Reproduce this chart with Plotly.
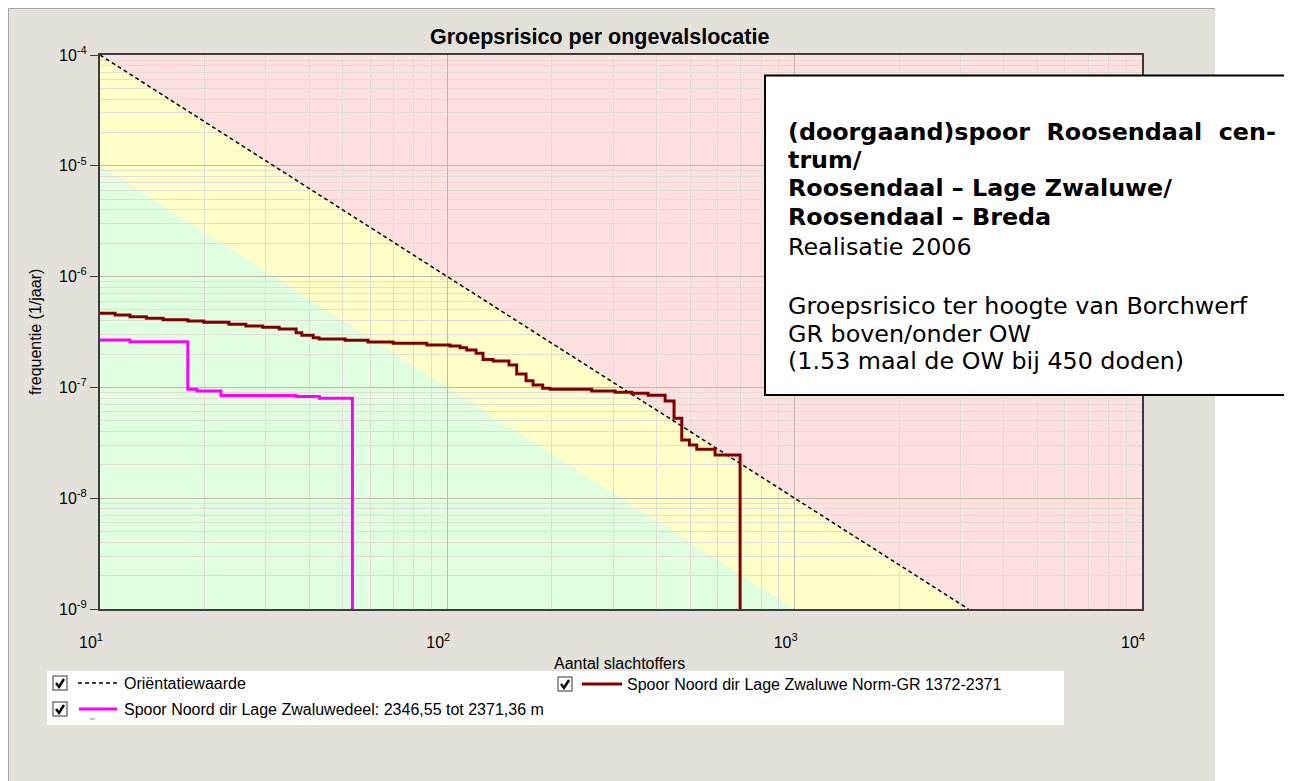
import plotly.graph_objects as go

# ---------------- data ----------------
# Orientatiewaarde (OW) line endpoints
ow_n = [10, 3162.28]
ow_f = [1e-4, 1e-9]

# Norm-GR step curve (brown)
norm_n = [10, 11.05, 12.2, 13.6, 15.2, 17.9, 19.9, 23.5, 26.3, 29.4, 32.8, 36.7, 38.1, 41.1, 42.7,
          50.8, 59.1, 69.8, 87.3, 101.8, 108.8, 113.7, 121, 126.7, 135.4, 150.5, 158.4, 168.5,
          176.5, 188.2, 197.6, 260.5, 304, 339.6, 378.5, 423.6, 449.5, 473.1, 497.6, 522.6,
          589.9, 696.4]
norm_f = [4.66e-7, 4.50e-7, 4.34e-7, 4.20e-7, 4.08e-7, 3.97e-7, 3.87e-7, 3.71e-7, 3.58e-7,
          3.49e-7, 3.37e-7, 3.12e-7, 2.95e-7, 2.81e-7, 2.73e-7, 2.66e-7, 2.57e-7, 2.50e-7,
          2.41e-7, 2.36e-7, 2.28e-7, 2.18e-7, 2.03e-7, 1.79e-7, 1.73e-7, 1.59e-7, 1.32e-7,
          1.15e-7, 1.05e-7, 9.8e-8, 9.6e-8, 9.28e-8, 9.03e-8, 8.85e-8, 8.49e-8, 7.54e-8,
          5.26e-8, 3.35e-8, 3.02e-8, 2.76e-8, 2.45e-8, 1e-12]

# deel 2346,55 - 2371,36 m step curve (magenta)
deel_n = [10, 12.2, 17.9, 19.0, 22.3, 36.7, 42.8, 53.3]
deel_f = [2.68e-7, 2.58e-7, 9.6e-8, 9.28e-8, 8.43e-8, 8.26e-8, 7.99e-8, 1e-12]

# background zones (polygon corners, data units)
yellow_n = [10, 3162.28, 1000, 10]
yellow_f = [1e-4, 1e-9, 1e-9, 1e-5]
green_n = [10, 1000, 10]
green_f = [1e-5, 1e-9, 1e-9]

x_tickvals = [10, 100, 1000, 10000]
x_ticktext = ["10<sup>1</sup>", "10<sup>2</sup>", "10<sup>3</sup>", "10<sup>4</sup>"]
y_tickvals = [1e-9, 1e-8, 1e-7, 1e-6, 1e-5, 1e-4]
y_ticktext = ["10<sup>-9</sup>", "10<sup>-8</sup>", "10<sup>-7</sup>", "10<sup>-6</sup>",
              "10<sup>-5</sup>", "10<sup>-4</sup>"]

title_text = "Groepsrisico per ongevalslocatie"
x_title = "Aantal slachtoffers"
y_title = "frequentie (1/jaar)"
legend_names = ["Oriëntatiewaarde",
                "Spoor Noord dir Lage Zwaluwe Norm-GR 1372-2371",
                "Spoor Noord dir Lage Zwaluwedeel: 2346,55 tot 2371,36 m"]
box_lines = [
    ("(doorgaand)spoor\u00a0 Roosendaal\u00a0 cen-", True),
    ("trum/", True),
    ("Roosendaal – Lage Zwaluwe/", True),
    ("Roosendaal – Breda", True),
    ("Realisatie 2006", False),
    ("", False),
    ("Groepsrisico ter hoogte van Borchwerf", False),
    ("GR boven/onder OW", False),
    ("(1.53 maal de OW bij 450 doden)", False),
]

# ---------------- layout helpers (page pixel coordinates) ----------------
OFF = 8                      # page body margin
W, H = 1292 - OFF, 781 - OFF
PL, PR, PT, PB = 100, 1142, 55, 609   # plot area in page pixels
PW, PH = PR - PL, PB - PT


def px(x):
    return (x - PL) / PW


def py(y):
    return (PB - y) / PH


def fmt(v):
    return f"{v:.12f}"


def poly_path(ns, fs):
    pts = [f"{fmt(n)},{fmt(f)}" for n, f in zip(ns, fs)]
    return "M" + " L".join(pts) + " Z"


BROWN = "#800000"
MAGENTA = "#FF00FF"
PANEL = "#E4E1DA"
OWDASH = "4px,3px"
TICKFONT = dict(family="Liberation Sans, Arial, sans-serif", size=16, color="#000000")
LBLFONT = dict(family="Liberation Sans, Arial, sans-serif", size=16, color="#000000")

fig = go.Figure()

fig.add_trace(go.Scatter(x=ow_n, y=ow_f, mode="lines", name=legend_names[0],
                         line=dict(color="#000000", width=1.5, dash=OWDASH),
                         showlegend=False, hoverinfo="skip"))
fig.add_trace(go.Scatter(x=norm_n, y=norm_f, mode="lines", name=legend_names[1],
                         line=dict(color=BROWN, width=3, shape="hv"),
                         showlegend=False))
fig.add_trace(go.Scatter(x=deel_n, y=deel_f, mode="lines", name=legend_names[2],
                         line=dict(color=MAGENTA, width=3, shape="hv"),
                         showlegend=False))

shapes = []
# grey panel
shapes.append(dict(type="rect", xref="paper", yref="paper", x0=px(7), x1=px(1215),
                   y0=py(800), y1=py(8), fillcolor=PANEL, line=dict(width=0), layer="below"))
shapes.append(dict(type="line", xref="paper", yref="paper", x0=px(8), x1=px(1215),
                   y0=py(8.5), y1=py(8.5), line=dict(color="#A8A8A8", width=1), layer="below"))
shapes.append(dict(type="line", xref="paper", yref="paper", x0=px(8.5), x1=px(8.5),
                   y0=py(8), y1=py(800), line=dict(color="#A8A8A8", width=1), layer="below"))
# red zone = whole plot area
shapes.append(dict(type="rect", xref="paper", yref="paper", x0=0, x1=1, y0=0, y1=1,
                   fillcolor="#FFE0E1", line=dict(width=0), layer="below"))
# yellow and green zones
shapes.append(dict(type="path", xref="x", yref="y", path=poly_path(yellow_n, yellow_f),
                   fillcolor="#FFFFC8", line=dict(width=0), layer="below"))
shapes.append(dict(type="path", xref="x", yref="y", path=poly_path(green_n, green_f),
                   fillcolor="#E0FFE0", line=dict(width=0), layer="below"))

# annotation box
shapes.append(dict(type="rect", xref="paper", yref="paper", x0=px(765), x1=px(1320),
                   y0=py(395), y1=py(75.5), fillcolor="#FFFFFF",
                   line=dict(color="#000000", width=2), layer="above"))

# legend box
shapes.append(dict(type="rect", xref="paper", yref="paper", x0=px(47), x1=px(1064),
                   y0=py(725), y1=py(671), fillcolor="#FFFFFF", line=dict(width=0),
                   layer="above"))

annotations = []


def checkbox(x0, yc):
    s = 14
    shapes.append(dict(type="rect", xref="paper", yref="paper", x0=px(x0), x1=px(x0 + s),
                       y0=py(yc + s / 2), y1=py(yc - s / 2), fillcolor="#FFFFFF",
                       line=dict(color="#7A7A7A", width=1.5), layer="above"))
    path = (f"M{px(x0 + 3)},{py(yc)} L{px(x0 + 6)},{py(yc + 4)} "
            f"L{px(x0 + 11)},{py(yc - 4)}")
    shapes.append(dict(type="path", xref="paper", yref="paper", path=path,
                       line=dict(color="#000000", width=2.4), layer="above"))


legend_items = [
    (53, 683, 78, 117, 122, dict(color="#000000", width=1.5, dash=OWDASH), legend_names[0]),
    (558, 684, 582, 622, 625, dict(color=BROWN, width=3), legend_names[1]),
    (53, 709, 79, 117, 122, dict(color=MAGENTA, width=3), legend_names[2]),
]
for cbx, yc, lx0, lx1, tx, ln, name in legend_items:
    checkbox(cbx, yc)
    shapes.append(dict(type="line", xref="paper", yref="paper", x0=px(lx0), x1=px(lx1),
                       y0=py(yc), y1=py(yc), line=ln, layer="above"))
    annotations.append(dict(text=name, xref="paper", yref="paper", x=px(tx), y=py(yc),
                            xanchor="left", yanchor="middle", showarrow=False,
                            font=LBLFONT))
# small artifact under second checkbox
shapes.append(dict(type="line", xref="paper", yref="paper", x0=px(90), x1=px(95),
                   y0=py(719), y1=py(719), line=dict(color="#909090", width=1), layer="above"))

# titles
annotations.append(dict(text="<b>" + title_text + "</b>", xref="paper", yref="paper",
                        x=px(599), y=py(37), xanchor="center", yanchor="middle",
                        showarrow=False,
                        font=dict(family="Liberation Sans, Arial, sans-serif", size=21.5,
                                  color="#000000")))
annotations.append(dict(text=x_title, xref="paper", yref="paper", x=px(619), y=py(663),
                        xanchor="center", yanchor="middle", showarrow=False, font=LBLFONT))
annotations.append(dict(text=y_title, xref="paper", yref="paper", x=px(35), y=py(332),
                        xanchor="center", yanchor="middle", showarrow=False, textangle=-90,
                        font=LBLFONT))

# box text
box_y = [132, 160, 188, 217, 246.5, 276, 306, 334, 361]
for (txt, bold), yc in zip(box_lines, box_y):
    if not txt:
        continue
    annotations.append(dict(text=("<b>" + txt + "</b>") if bold else txt,
                            xref="paper", yref="paper", x=px(786), y=py(yc),
                            xanchor="left", yanchor="middle", showarrow=False,
                            font=dict(family="DejaVu Sans, Verdana, sans-serif", size=23.8,
                                      color="#000000")))

axis_common = dict(type="log", showgrid=True, gridcolor="#C3B6AC", gridwidth=1,
                   showline=True, mirror=True, linecolor="#3C3C3C", linewidth=2,
                   zeroline=False, tickfont=TICKFONT, tickmode="array",
                   minor=dict(dtick="D1", showgrid=True, gridcolor="#E3DDD8", gridwidth=1,
                              ticks=""))

fig.update_layout(
    width=W, height=H, autosize=False,
    margin=dict(l=PL - OFF, r=W - (PR - OFF), t=PT - OFF, b=H - (PB - OFF), pad=0),
    paper_bgcolor="#FFFFFF", plot_bgcolor="#FFE0E1",
    showlegend=False,
    xaxis=dict(axis_common, range=[1, 4], tickvals=x_tickvals, ticktext=x_ticktext,
               ticks="", ticklabelstandoff=18, ticklabelshift=-9),
    yaxis=dict(axis_common, range=[-9, -4], tickvals=y_tickvals, ticktext=y_ticktext,
               ticks="outside", ticklen=8, tickcolor="#3C3C3C", tickwidth=1),
    shapes=shapes,
    annotations=annotations,
)

fig.write_html("out.html")
